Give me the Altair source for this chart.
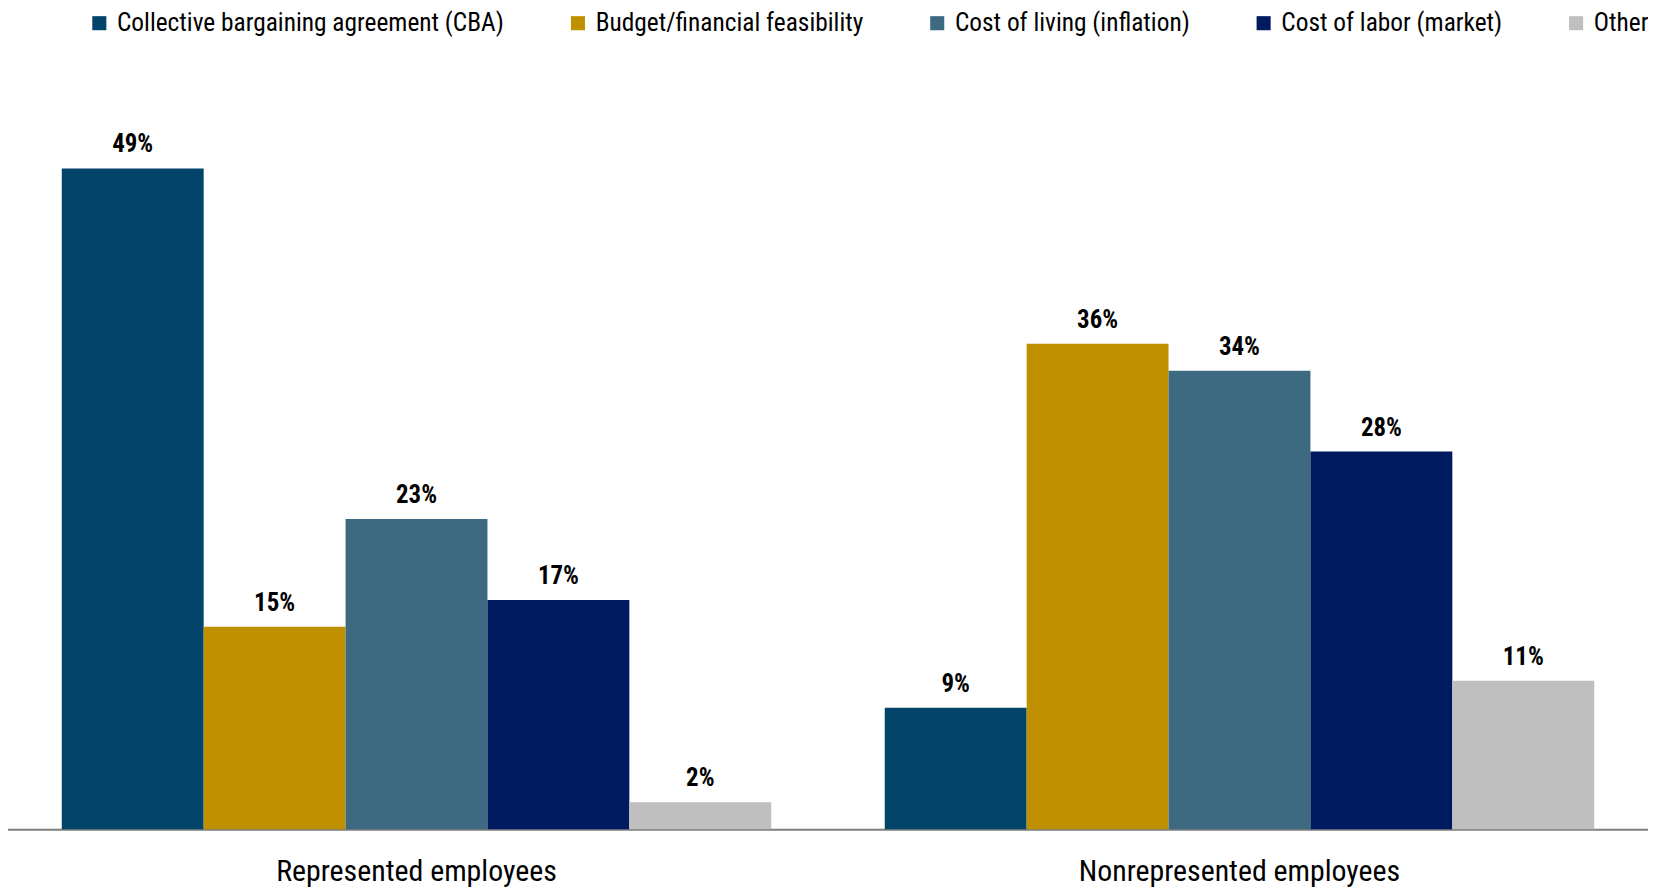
import altair as alt
import pandas as pd

groups = ["Represented employees", "Nonrepresented employees"]
categories = [
    "Collective bargaining agreement (CBA)",
    "Budget/financial feasibility",
    "Cost of living (inflation)",
    "Cost of labor (market)",
    "Other",
]
represented = [49, 15, 23, 17, 2]
nonrepresented = [9, 36, 34, 28, 11]
colors = ["#03446A", "#BF9000", "#3D6A80", "#001A60", "#BFBFBF"]

rows = []
for g, vals in zip(groups, [represented, nonrepresented]):
    for c, v in zip(categories, vals):
        rows.append({"group": g, "category": c, "value": v})
df = pd.DataFrame(rows)

FONT = "Roboto Condensed, DejaVu Sans Condensed, Liberation Sans Narrow, Liberation Sans, sans-serif"

x_enc = alt.X("group:N", sort=groups,
              scale=alt.Scale(paddingInner=0, paddingOuter=0, range=[-3, 1651]),
              axis=alt.Axis(title=None, labelAngle=0, ticks=False, tickSize=0,
                            labelPadding=28, labelFontSize=30, labelFont=FONT,
                            labelLimit=800,
                            labelColor="#000000", domainColor="#7F7F7F",
                            domainWidth=2, grid=False))
xo_enc = alt.XOffset("category:N", sort=categories,
                     scale=alt.Scale(paddingInner=0, paddingOuter=0.4))
y_enc = alt.Y("value:Q", scale=alt.Scale(domain=[0, 57.71], nice=False, zero=True),
              axis=None)

base = alt.Chart(df)

bars = base.mark_bar().encode(
    x=x_enc,
    xOffset=xo_enc,
    y=y_enc,
    color=alt.Color("category:N", sort=categories,
                    scale=alt.Scale(domain=categories, range=colors),
                    legend=alt.Legend(title=None, orient="none", direction="horizontal",
                                      columns=5, legendX=79, legendY=-41,
                                      symbolType="square", symbolSize=200,
                                      symbolStrokeWidth=0, symbolOpacity=1,
                                      labelFontSize=25.5, labelFont=FONT,
                                      labelColor="#000000", labelOffset=5,
                                      columnPadding=61, labelLimit=600)),
)

labels = base.mark_text(font=FONT, fontSize=25, fontWeight="bold", color="#000000",
                        baseline="alphabetic", dy=-16).encode(
    x=alt.X("group:N", sort=groups),
    xOffset=alt.XOffset("category:N", sort=categories),
    y=alt.Y("value:Q"),
    text=alt.Text("label:N"),
).transform_calculate(label="datum.value + '%'")

chart = alt.layer(bars, labels).properties(
    width=1648, height=782,
    padding={"left": 0, "right": 0, "top": 41, "bottom": 57},
    autosize=alt.AutoSizeParams(type="none"),
).configure(font=FONT).configure_view(strokeWidth=0, stroke="transparent")

chart.save("out.html", embed_options={"renderer": "svg", "actions": False})
